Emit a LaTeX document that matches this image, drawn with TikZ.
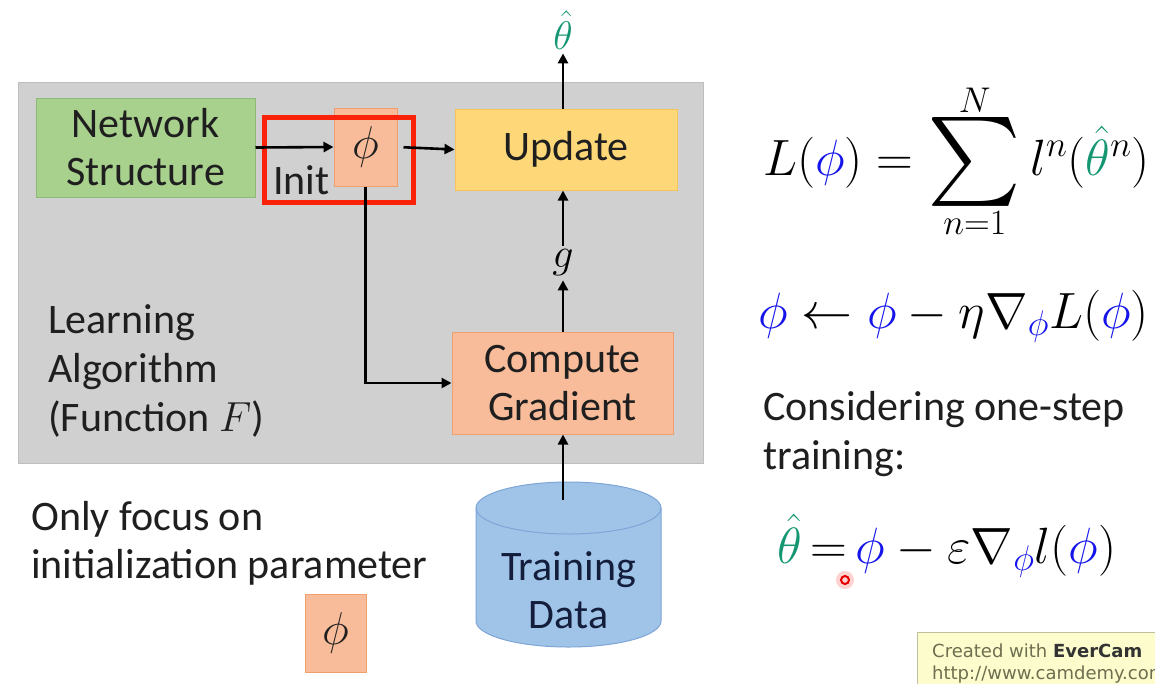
\RequirePackage{fix-cm}
\documentclass[tikz,border=0pt]{standalone}
\usepackage{exscale}
\usepackage{fontspec}
\setmainfont{Carlito}
\newfontfamily\wmfont{DejaVu Sans}
\usetikzlibrary{arrows.meta}
\definecolor{panelfill}{RGB}{208,208,208}
\definecolor{paneldraw}{RGB}{190,190,190}
\definecolor{greenfill}{RGB}{169,209,142}
\definecolor{greendraw}{RGB}{140,185,115}
\definecolor{salmonfill}{RGB}{248,188,154}
\definecolor{salmondraw}{RGB}{240,160,110}
\definecolor{yellowfill}{RGB}{254,216,120}
\definecolor{yellowdraw}{RGB}{245,195,90}
\definecolor{cylfill}{RGB}{160,196,232}
\definecolor{cyldraw}{RGB}{125,165,215}
\definecolor{cyltext}{RGB}{20,30,60}
\definecolor{redbox}{RGB}{250,35,10}
\definecolor{phiblue}{RGB}{20,20,235}
\definecolor{thgreen}{RGB}{20,150,115}
\definecolor{wmfill}{RGB}{252,252,205}
\definecolor{wmdraw}{RGB}{190,190,160}
\definecolor{wmtext}{RGB}{110,110,80}
\newcommand{\bigsumsign}{\mathop{\vcenter{\hbox{\resizebox{!}{90pt}{$\sum$}}}}\limits}
\begin{document}
\begin{tikzpicture}[x=1pt,y=-1pt,
  boxtext/.style={font=\fontsize{42}{48}\selectfont, text=black!88},
  box/.style={boxtext, draw, line width=1pt, inner sep=0pt, align=center},
  phibox/.style={box, fill=salmonfill, draw=salmondraw, font=\fontsize{46}{50}\selectfont},
  flow/.style={line width=2.6pt, -{Triangle[length=10pt,width=10pt]}},
  plain/.style={boxtext, inner sep=0pt, anchor=base west},
  eqn/.style={font=\fontsize{51}{58}\selectfont, inner sep=0pt, anchor=base west}]
\useasboundingbox (0,0) rectangle (1155,683);
\clip (0,0) rectangle (1155,683);
% panel
\node[fill=panelfill, draw=paneldraw, line width=1pt, minimum width=685pt, minimum height=381pt, inner sep=0pt] (panel) at (360.5,273) {};
% boxes
\node[box, fill=greenfill, draw=greendraw, minimum width=219pt, minimum height=99pt] (ns) at (145.5,147.5) {Network\\Structure};
\node[phibox, minimum width=63pt, minimum height=78pt] (phi) at (365.5,147) {$\phi$};
\node[box, fill=yellowfill, draw=yellowdraw, minimum width=222pt, minimum height=81pt] (upd) at (566,149.5) {Update};
\node[box, fill=salmonfill, draw=salmondraw, minimum width=221pt, minimum height=102pt] (comp) at (562.5,383) {Compute\\Gradient};
% red highlight
\draw[redbox, line width=5pt] (264,117) rectangle (413,202);
\node[plain] (init) at (273,194) {Init};
% labels on the vertical chain
\node[font=\fontsize{40}{44}\selectfont, text=thgreen, inner sep=0pt] (th) at (563,30) {$\hat\theta$};
\node[font=\fontsize{42}{46}\selectfont, inner sep=0pt] (g) at (563,263) {$g$};
% training data cylinder
\fill[cylfill] (476,508) -- (476,621) arc[start angle=180, end angle=0, x radius=92.5, y radius=26] -- (661,508) -- cycle;
\draw[cyldraw, line width=1pt] (476,508) -- (476,621) arc[start angle=180, end angle=0, x radius=92.5, y radius=26] -- (661,508);
\draw[cyldraw, fill=cylfill, line width=1pt] (568.5,508) ellipse[x radius=92.5, y radius=26];
\node[boxtext, text=cyltext, align=center, inner sep=0pt] (td) at (568.5,590) {Training\\Data};
\coordinate (cyltop) at (563,500);
% connectors
\draw[flow] (ns.east) -- (phi.west);
\draw[flow, shorten <=6pt] (phi.east) -- (upd.west);
\draw[flow] (phi.south) -- (phi.south |- comp.west) -- (comp.west);
\draw[flow] (upd.north -| th) -- ([yshift=-4pt]th.south);
\draw[flow] (g.north |- comp.north) -- ([yshift=-4pt]g.south);
\draw[flow] ([yshift=4pt]g.north) -- (g.north |- upd.south);
\draw[flow] (cyltop) -- (cyltop |- comp.south);
% left texts
\node[plain] (l1) at (48,333) {Learning};
\node[plain] (l2) at (48,382) {Algorithm};
\node[plain] (l3) at (48,431) {(Function $F$)};
\node[plain] (o1) at (31,530) {Only focus on};
\node[plain] (o2) at (31,578) {initialization parameter};
\node[phibox, minimum width=61pt, minimum height=78pt] (phismall) at (335.5,633) {$\phi$};
% right equations
\node[eqn] (eq1) at (763,175) {$L(\textcolor{phiblue}{\phi}) = \bigsumsign_{n=1}^{N} l^n(\textcolor{thgreen}{\hat\theta}{}^n)$};
\node[eqn] (eq2) at (758,328) {$\textcolor{phiblue}{\phi} \leftarrow \textcolor{phiblue}{\phi} - \eta\nabla_{\textcolor{phiblue}{\phi}}L(\textcolor{phiblue}{\phi})$};
\node[plain] (c1) at (763,420) {Considering one-step};
\node[plain] (c2) at (763,469) {training:};
\node[eqn] (eq3) at (777,563) {$\textcolor{thgreen}{\hat\theta}\mkern3mu{=}\mkern3mu\textcolor{phiblue}{\phi}\mkern4mu{-}\mkern4mu\varepsilon\nabla_{\textcolor{phiblue}{\phi}}l(\textcolor{phiblue}{\phi})$};
% cursor mark
\fill[red!25, opacity=0.7] (845,580) circle[radius=9pt];
\draw[red!90!black, line width=2pt] (845,580) circle[radius=4pt];
% watermark
\node[fill=wmfill, draw=wmdraw, line width=1pt, minimum width=260pt, minimum height=60pt, anchor=north west] (wm) at (917,632) {};
\node[font=\wmfont\fontsize{18}{20}\selectfont, text=wmtext, anchor=base west, inner sep=0pt] (wmt) at (932,657) {Created with \textbf{\color{black!80}EverCam}};
\node[font=\wmfont\fontsize{18}{20}\selectfont, text=wmtext, anchor=base west, inner sep=0pt] (wmu) at (932,679) {http://www.camdemy.com};
\end{tikzpicture}
\end{document}
